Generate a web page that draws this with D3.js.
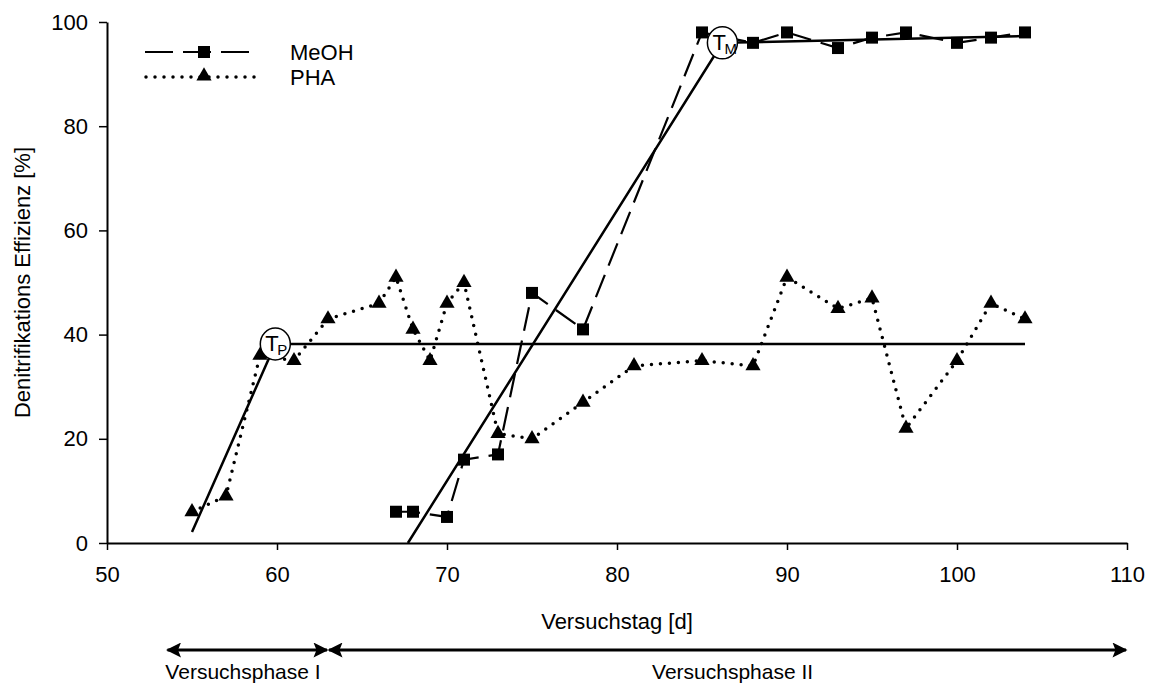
<!DOCTYPE html>
<html>
<head>
<meta charset="utf-8">
<script src="https://cdn.jsdelivr.net/npm/d3@7"></script>
<style>
  body { margin: 0; background: #fff; }
  svg { display: block; font-family: "Liberation Sans", Arial, sans-serif; }
</style>
</head>
<body>
<svg id="chart" width="1151" height="685"></svg>
<script>
// ---- data ----
const phaDays   = [55, 57, 59, 61, 63, 66, 67, 68, 69, 70, 71, 73, 75, 78, 81, 85, 88, 90, 93, 95, 97, 100, 102, 104];
const phaValues = [6, 9, 36, 35, 43, 46, 51, 41, 35, 46, 50, 21, 20, 27, 34, 35, 34, 51, 45, 47, 22, 35, 46, 43];
const meohDays   = [67, 68, 70, 71, 73, 75, 78, 85, 88, 90, 93, 95, 97, 100, 102, 104];
const meohValues = [6, 6, 5, 16, 17, 48, 41, 98, 96, 98, 95, 97, 98, 96, 97, 98];
const phaTrendX = [55.0, 59.9, 104];
const phaTrendY = [2.1, 38.2, 38.2];
const meohTrendX = [67.7, 86.2, 104];
const meohTrendY = [0, 96.0, 97.3];
const turnX = [59.9, 86.2];
const turnY = [38.2, 96.0];
const turnSub = ["P", "M"];
const xTicks = [50, 60, 70, 80, 90, 100, 110];
const yTicks = [0, 20, 40, 60, 80, 100];
const seriesNames = ["MeOH", "PHA"];
const phaseStarts = [53.5, 63];
const phaseEnds = [63, 110];
const phaseLabelX = [58.0, 86.8];
const phaseLabels = ["Versuchsphase I", "Versuchsphase II"];
const xTitle = "Versuchstag [d]";
const yTitle = "Denitrifikations Effizienz [%]";

// ---- layout ----
const svg = d3.select("#chart");
const x = d3.scaleLinear().domain([50, 110]).range([107, 1127]);
const y = d3.scaleLinear().domain([0, 100]).range([543, 22]);
const FS = 22;

// axes
const xAxis = svg.append("g").attr("transform", `translate(0,${y(0)})`)
  .call(d3.axisBottom(x).tickValues(xTicks).tickSize(7).tickSizeOuter(0).tickPadding(16));
const yAxis = svg.append("g").attr("transform", `translate(${x(50)},0)`)
  .call(d3.axisLeft(y).tickValues(yTicks).tickSize(8).tickSizeOuter(0).tickPadding(11));
[xAxis, yAxis].forEach(g => {
  g.selectAll("path.domain").attr("stroke", "#000").attr("stroke-width", 2);
  g.selectAll(".tick line").attr("stroke", "#000").attr("stroke-width", 1.5);
  g.selectAll(".tick text").attr("font-size", FS).attr("fill", "#000")
    .attr("font-family", "Liberation Sans, Arial, sans-serif");
});

svg.append("text").attr("x", x(80)).attr("y", 629).attr("text-anchor", "middle")
  .attr("font-size", FS).text(xTitle);
svg.append("text").attr("transform", `translate(30,${(y(0) + y(100)) / 2}) rotate(-90)`)
  .attr("text-anchor", "middle").attr("font-size", FS).text(yTitle);

// lines
const line = d3.line().x(d => x(d[0])).y(d => y(d[1]));
const phaPts = phaDays.map((d, i) => [d, phaValues[i]]);
const meohPts = meohDays.map((d, i) => [d, meohValues[i]]);

svg.append("path").datum(phaPts).attr("d", line).attr("fill", "none")
  .attr("stroke", "#000").attr("stroke-width", 3.5).attr("stroke-linecap", "round")
  .attr("stroke-dasharray", "0 9");
svg.append("path").datum(meohPts).attr("d", line).attr("fill", "none")
  .attr("stroke", "#000").attr("stroke-width", 2.2).attr("stroke-dasharray", "24 10");

svg.append("path").datum(phaTrendX.map((d, i) => [d, phaTrendY[i]])).attr("d", line)
  .attr("fill", "none").attr("stroke", "#000").attr("stroke-width", 2.5);
svg.append("path").datum(meohTrendX.map((d, i) => [d, meohTrendY[i]])).attr("d", line)
  .attr("fill", "none").attr("stroke", "#000").attr("stroke-width", 2.5);

// markers
const sq = d3.symbol().type(d3.symbolSquare).size(144);
const tri = d3.symbol().type(d3.symbolTriangle).size(100);
svg.append("g").selectAll("path").data(phaPts).join("path")
  .attr("d", tri).attr("transform", d => `translate(${x(d[0])},${y(d[1])})`).attr("fill", "#000");
svg.append("g").selectAll("path").data(meohPts).join("path")
  .attr("d", sq).attr("transform", d => `translate(${x(d[0])},${y(d[1])})`).attr("fill", "#000");

// turning-point circles
turnX.forEach((tx, i) => {
  const g = svg.append("g").attr("transform", `translate(${x(tx)},${y(turnY[i])})`);
  g.append("ellipse").attr("rx", 15).attr("ry", 16).attr("fill", "#fff")
    .attr("stroke", "#000").attr("stroke-width", 1.5);
  g.append("text").attr("x", -10).attr("y", 7).attr("font-size", 22).text("T");
  g.append("text").attr("x", 2).attr("y", 11).attr("font-size", 15).text(turnSub[i]);
});

// legend
const lg = svg.append("g");
const legY = [52, 77];
lg.append("line").attr("x1", 145).attr("x2", 249).attr("y1", legY[0]).attr("y2", legY[0])
  .attr("stroke", "#000").attr("stroke-width", 2.2).attr("stroke-dasharray", "28 10");
lg.append("path").attr("d", sq).attr("transform", `translate(204,${legY[0]})`);
lg.append("line").attr("x1", 146).attr("x2", 257).attr("y1", legY[1]).attr("y2", legY[1])
  .attr("stroke", "#000").attr("stroke-width", 3.5).attr("stroke-linecap", "round")
  .attr("stroke-dasharray", "0 9");
lg.append("path").attr("d", tri).attr("transform", `translate(204,${legY[1] - 1})`);
seriesNames.forEach((n, i) => {
  lg.append("text").attr("x", 290).attr("y", legY[i] + 8).attr("font-size", FS).text(n);
});

// phase arrows
const defs = svg.append("defs");
defs.append("marker").attr("id", "ah").attr("viewBox", "0 0 10 10").attr("refX", 9).attr("refY", 5)
  .attr("markerWidth", 7).attr("markerHeight", 5).attr("markerUnits", "strokeWidth")
  .attr("orient", "auto-start-reverse")
  .append("path").attr("d", "M0,0 L10,5 L0,10 L2,5 Z").attr("fill", "#000");
const arrowY = 650;
phaseStarts.forEach((s, i) => {
  svg.append("line").attr("x1", x(s) + 1).attr("x2", x(phaseEnds[i]) - 1)
    .attr("y1", arrowY).attr("y2", arrowY).attr("stroke", "#000").attr("stroke-width", 3)
    .attr("marker-start", "url(#ah)").attr("marker-end", "url(#ah)");
});
phaseLabels.forEach((t, i) => {
  svg.append("text").attr("x", x(phaseLabelX[i])).attr("y", 679).attr("text-anchor", "middle")
    .attr("font-size", 21).text(t);
});
</script>
</body>
</html>
